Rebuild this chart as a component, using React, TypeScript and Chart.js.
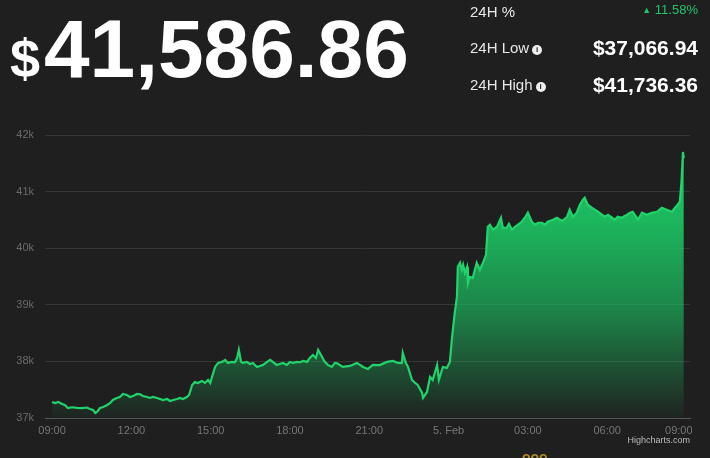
import React, { useEffect, useRef } from "react";
import { Chart, registerables } from "chart.js";

Chart.register(...registerables);

// minutes since 09:00 (4 Feb)
const minutes = [
  0, 7, 14, 23, 29, 36, 45, 57, 68, 79, 86, 93, 98, 102, 109, 116, 125, 132, 138, 147,
  154, 161, 170, 177, 184, 193, 200, 206, 216, 222, 229, 238, 245, 252, 261, 268, 275, 284, 290, 297,
  306, 311, 318, 324, 331, 340, 347, 354, 359, 363, 370, 377, 386, 393, 399, 408, 415, 420, 424, 429,
  433, 442, 449, 456, 465, 472, 479, 488, 495, 501, 510, 517, 524, 533, 540, 547, 556, 563, 570, 579,
  585, 592, 599, 604, 613, 619, 626, 635, 642, 647, 660, 676, 692, 706, 717, 728, 744, 760, 774, 785,
  794, 796, 803, 808, 817, 824, 830, 840, 842, 851, 858, 864, 874, 878, 887, 896, 903, 908, 914, 919,
  921, 926, 930, 933, 937, 942, 944, 948, 955, 964, 971, 978, 985, 989, 994, 1001, 1010, 1019, 1023, 1032,
  1037, 1044, 1051, 1057, 1066, 1073, 1080, 1089, 1096, 1103, 1112, 1119, 1125, 1137, 1146, 1153, 1159, 1169, 1175, 1182,
  1191, 1198, 1205, 1209, 1216, 1225, 1232, 1239, 1248, 1255, 1262, 1271, 1277, 1284, 1293, 1305, 1312, 1318, 1330, 1339,
  1350, 1361, 1373, 1384, 1395, 1407, 1414, 1420, 1425, 1429, 1432, 1434,
];

const prices = [
  37283, 37265, 37283, 37248, 37230, 37177, 37190, 37180, 37175, 37185, 37159, 37142, 37088, 37106, 37177, 37195, 37230, 37265, 37318, 37354,
  37371, 37425, 37407, 37371, 37389, 37425, 37420, 37389, 37371, 37354, 37371, 37354, 37336, 37318, 37336, 37301, 37318, 37336, 37354, 37336,
  37371, 37407, 37584, 37637, 37619, 37655, 37619, 37672, 37619, 37725, 37902, 37973, 37991, 38026, 37973, 37991, 37985, 38061, 38203, 37991,
  37973, 37991, 37955, 37973, 37902, 37920, 37938, 37991, 38026, 37991, 37938, 37955, 37973, 37938, 37991, 37973, 37991, 37985, 38008, 37991,
  38061, 38114, 38061, 38203, 38079, 37991, 37938, 37902, 37973, 37965, 37902, 37920, 37973, 37902, 37867, 37938, 37935, 37991, 38008, 37973,
  37970, 38150, 37973, 37902, 37672, 37619, 37584, 37442, 37354, 37460, 37725, 37672, 37938, 37672, 37902, 37885, 37991, 38433, 38857, 39140,
  39671, 39742, 39618, 39707, 39565, 39671, 39388, 39494, 39477, 39742, 39618, 39742, 39883, 40379, 40414, 40326, 40379, 40538, 40361, 40361,
  40432, 40326, 40379, 40414, 40467, 40538, 40627, 40467, 40414, 40450, 40450, 40414, 40467, 40503, 40538, 40503, 40485, 40556, 40680, 40556,
  40627, 40768, 40856, 40892, 40768, 40715, 40680, 40644, 40591, 40556, 40591, 40538, 40503, 40556, 40538, 40591, 40627, 40644, 40503, 40627,
  40591, 40627, 40644, 40715, 40680, 40644, 40715, 40768, 40821, 41210, 41700, 41590,
];

const xTickMinutes = [0, 180, 360, 540, 720, 900, 1080, 1260, 1440];
const xTickLabels = ["09:00", "12:00", "15:00", "18:00", "21:00", "5. Feb", "03:00", "06:00", "09:00"];
const yTickValues = [37000, 38000, 39000, 40000, 41000, 42000];
const yTickLabels = ["37k", "38k", "39k", "40k", "41k", "42k"];

const priceText = "41,586.86";
const changeText = "11.58%";
const lowText = "$37,066.94";
const highText = "$41,736.36";

const BG = "#1f1f1f";
const FONT = "'Liberation Sans', Arial, Helvetica, sans-serif";

function InfoIcon() {
  return (
    <span
      style={{
        display: "inline-block",
        width: 10,
        height: 10,
        borderRadius: "50%",
        background: "#eeeeee",
        color: BG,
        fontSize: 8,
        fontWeight: 700,
        lineHeight: "10px",
        textAlign: "center",
        marginLeft: 3,
        verticalAlign: "1px",
      }}
    >
      i
    </span>
  );
}

export default function App() {
  const canvasRef = useRef<HTMLCanvasElement | null>(null);

  useEffect(() => {
    document.body.style.margin = "0";
    document.body.style.background = BG;
    const canvas = canvasRef.current;
    if (!canvas) return;
    const chart = new Chart(canvas, {
      type: "line",
      data: {
        datasets: [
          {
            data: minutes.map((m, i) => ({ x: m, y: prices[i] })),
            borderColor: "#22d36c",
            borderWidth: 2.2,
            pointRadius: 0,
            tension: 0,
            fill: "start",
            backgroundColor: (ctx: any) => {
              const { chart: ch } = ctx;
              const area = ch.chartArea;
              if (!area) return "rgba(28,196,98,0.5)";
              const g = ch.ctx.createLinearGradient(0, area.top, 0, area.bottom);
              g.addColorStop(0, "rgba(28,200,100,1)");
              g.addColorStop(0.3, "rgba(28,200,100,0.9)");
              g.addColorStop(0.62, "rgba(28,200,100,0.6)");
              g.addColorStop(1, "rgba(28,200,100,0.03)");
              return g;
            },
          },
        ],
      },
      options: {
        animation: false,
        responsive: false,
        devicePixelRatio: 1,
        events: [],
        layout: { padding: { top: 135, right: 20, left: 0, bottom: 0 } },
        plugins: { legend: { display: false }, tooltip: { enabled: false } },
        scales: {
          x: {
            type: "linear",
            min: -16,
            max: 1448,
            afterBuildTicks: (axis: any) => {
              axis.ticks = xTickMinutes.map((v) => ({ value: v }));
            },
            afterFit: (axis: any) => {
              axis.height = 40;
              axis.paddingLeft = 0;
              axis.paddingRight = 0;
            },
            ticks: {
              autoSkip: false,
              maxRotation: 0,
              padding: 6,
              color: "#777777",
              font: { family: FONT, size: 11 },
              callback: (_v: any, i: number) =>
                i === xTickLabels.length - 1 ? xTickLabels[i] + "     " : xTickLabels[i],
            },
            grid: { display: false, drawTicks: false },
            border: { display: true, color: "#555555", width: 1 },
          },
          y: {
            min: 37000,
            max: 42000,
            afterBuildTicks: (axis: any) => {
              axis.ticks = yTickValues.map((v) => ({ value: v }));
            },
            afterFit: (axis: any) => {
              axis.width = 45;
              axis.paddingTop = 0;
              axis.paddingBottom = 0;
            },
            ticks: {
              padding: 11,
              color: "#6a6a6a",
              font: { family: FONT, size: 11 },
              callback: (_v: any, i: number) => yTickLabels[i],
            },
            grid: { color: "#363636", lineWidth: 1, drawTicks: false },
            border: { display: false },
          },
        },
      },
    } as any);
    return () => chart.destroy();
  }, []);

  return (
    <div
      style={{
        position: "relative",
        width: 710,
        height: 458,
        background: BG,
        overflow: "hidden",
        fontFamily: FONT,
        color: "#ffffff",
      }}
    >
      <canvas
        ref={canvasRef}
        width={710}
        height={458}
        style={{ position: "absolute", left: 0, top: 0, width: 710, height: 458 }}
      />
      <div
        style={{
          position: "absolute",
          left: 10,
          top: 31,
          fontSize: 54,
          lineHeight: "54px",
          fontWeight: 700,
          whiteSpace: "nowrap",
        }}
      >
        $
      </div>
      <div
        style={{
          position: "absolute",
          left: 44,
          top: 8,
          fontSize: 82,
          lineHeight: "82px",
          fontWeight: 700,
          whiteSpace: "nowrap",
        }}
      >
        {priceText}
      </div>
      <div
        style={{
          position: "absolute",
          left: 470,
          top: 4,
          fontSize: 15,
          lineHeight: "15px",
          color: "#e6e6e6",
          whiteSpace: "nowrap",
        }}
      >
        24H %
      </div>
      <div
        style={{
          position: "absolute",
          right: 12,
          top: 3,
          fontSize: 13,
          lineHeight: "13px",
          color: "#22c46c",
          whiteSpace: "nowrap",
        }}
      >
        <span style={{ fontSize: 9, verticalAlign: "1px" }}>▲</span> {changeText}
      </div>
      <div
        style={{
          position: "absolute",
          left: 470,
          top: 40,
          fontSize: 15,
          lineHeight: "15px",
          color: "#e6e6e6",
          whiteSpace: "nowrap",
        }}
      >
        24H Low
        <InfoIcon />
      </div>
      <div
        style={{
          position: "absolute",
          right: 12,
          top: 37,
          fontSize: 21,
          lineHeight: "21px",
          fontWeight: 700,
          whiteSpace: "nowrap",
        }}
      >
        {lowText}
      </div>
      <div
        style={{
          position: "absolute",
          left: 470,
          top: 77,
          fontSize: 15,
          lineHeight: "15px",
          color: "#e6e6e6",
          whiteSpace: "nowrap",
        }}
      >
        24H High
        <InfoIcon />
      </div>
      <div
        style={{
          position: "absolute",
          right: 12,
          top: 74,
          fontSize: 21,
          lineHeight: "21px",
          fontWeight: 700,
          whiteSpace: "nowrap",
        }}
      >
        {highText}
      </div>
      <div
        style={{
          position: "absolute",
          right: 20,
          top: 435,
          fontSize: 9,
          lineHeight: "10px",
          color: "#bbbbbb",
          whiteSpace: "nowrap",
        }}
      >
        Highcharts.com
      </div>
      <div
        style={{
          position: "absolute",
          left: 522,
          top: 450,
          fontSize: 14,
          lineHeight: "14px",
          fontWeight: 700,
          color: "#a88a2c",
          whiteSpace: "nowrap",
        }}
      >
        ooo
      </div>
    </div>
  );
}
